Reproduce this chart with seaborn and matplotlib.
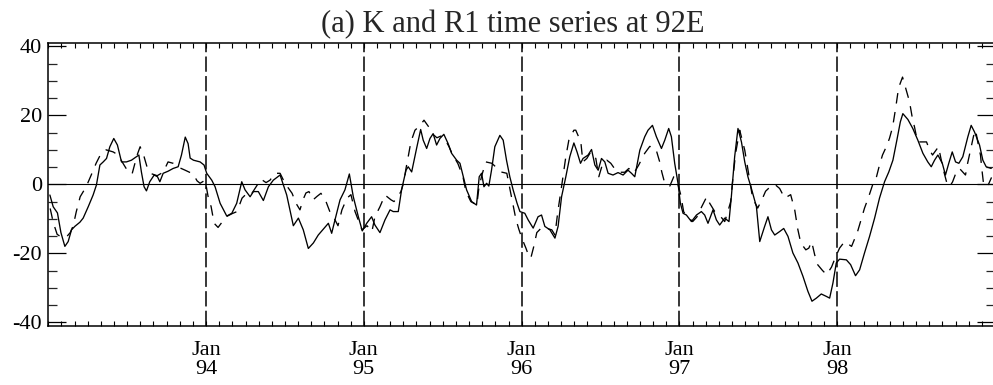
import numpy as np
import pandas as pd
import matplotlib
matplotlib.use("Agg")
import matplotlib.pyplot as plt
import seaborn as sns
from matplotlib.ticker import FixedLocator, MultipleLocator

# Time axis in years after 1 Jan 1993
k_time = [0.010, 0.031, 0.058, 0.080, 0.105, 0.126, 0.147, 0.168, 0.200, 0.221,
          0.253, 0.284, 0.305, 0.327, 0.348, 0.369, 0.390, 0.415, 0.438, 0.464,
          0.495, 0.527, 0.559, 0.574, 0.590, 0.607, 0.622, 0.643, 0.671, 0.692,
          0.707, 0.728, 0.759, 0.791, 0.823, 0.844, 0.868, 0.886, 0.899, 0.920,
          0.962, 0.987, 1.004, 1.036, 1.057, 1.089, 1.131, 1.163, 1.194, 1.226,
          1.247, 1.279, 1.300, 1.331, 1.363, 1.395, 1.426, 1.469, 1.511, 1.553,
          1.585, 1.616, 1.648, 1.680, 1.711, 1.743, 1.775, 1.796, 1.817, 1.849,
          1.880, 1.908, 1.933, 1.965, 1.990, 2.018, 2.049, 2.070, 2.102, 2.134,
          2.166, 2.186, 2.218, 2.239, 2.267, 2.281, 2.303, 2.334, 2.360, 2.376,
          2.398, 2.419, 2.439, 2.461, 2.482, 2.507, 2.534, 2.556, 2.588, 2.609,
          2.630, 2.651, 2.683, 2.714, 2.731, 2.746, 2.761, 2.778, 2.792, 2.809,
          2.830, 2.862, 2.883, 2.904, 2.925, 2.946, 2.971, 2.989, 3.020, 3.041,
          3.073, 3.104, 3.126, 3.147, 3.179, 3.211, 3.231, 3.253, 3.280, 3.305,
          3.331, 3.351, 3.373, 3.389, 3.421, 3.443, 3.464, 3.485, 3.506, 3.527,
          3.548, 3.579, 3.611, 3.643, 3.674, 3.696, 3.717, 3.749, 3.780, 3.801,
          3.829, 3.854, 3.886, 3.907, 3.932, 3.949, 3.970, 3.991, 4.006, 4.023,
          4.044, 4.076, 4.108, 4.139, 4.160, 4.181, 4.213, 4.234, 4.255, 4.287,
          4.314, 4.329, 4.350, 4.371, 4.393, 4.414, 4.434, 4.456, 4.488, 4.509,
          4.540, 4.561, 4.583, 4.604, 4.635, 4.661, 4.688, 4.719, 4.751, 4.783,
          4.814, 4.840, 4.868, 4.899, 4.931, 4.952, 4.973, 4.994, 5.015, 5.058,
          5.085, 5.116, 5.142, 5.173, 5.205, 5.237, 5.268, 5.300, 5.327, 5.353,
          5.378, 5.400, 5.416, 5.448, 5.479, 5.511, 5.543, 5.574, 5.596, 5.617,
          5.638, 5.666, 5.686, 5.707, 5.729, 5.750, 5.771, 5.796, 5.828, 5.849,
          5.870, 5.902, 5.923, 5.944, 5.976]
k_value = [-3.1, -6.5, -8.3, -14.0, -18.0, -16.6, -13.2, -12.2, -11.0, -9.8,
           -6.5, -3.1, -0.2, 5.6, 6.5, 7.5, 10.9, 13.3, 11.4, 6.5,
           6.5, 7.0, 8.0, 8.5, 3.6, -0.7, -1.9, 0.75, 2.7, 2.2,
           0.75, 3.2, 3.8, 4.6, 5.1, 8.5, 13.7, 11.8, 7.6, 7.0,
           6.5, 5.6, 3.2, 1.2, -0.7, -5.5, -9.2, -8.4, -5.5, 0.75,
           -1.6, -3.6, -2.1, -2.1, -4.7, -0.7, 1.2, 2.7, -3.1, -12.0,
           -9.8, -13.2, -18.6, -17.0, -14.7, -13.0, -11.3, -14.2, -10.3, -4.5,
           -1.6, 3.0, -3.6, -9.4, -13.5, -11.3, -9.4, -11.8, -14.0, -10.3,
           -7.4, -7.9, -7.9, -1.6, 4.1, 5.1, 3.6, 10.4, 15.9, 12.8,
           10.4, 13.3, 14.7, 11.4, 13.3, 14.5, 11.8, 9.0, 7.0, 6.1,
           2.2, -1.6, -5.0, -6.0, 2.2, 3.2, -0.7, 0.3, -0.5, 4.1,
           10.9, 14.2, 12.8, 7.0, 2.2, -1.6, -5.5, -7.9, -8.4, -10.3,
           -12.7, -9.4, -8.9, -12.2, -13.2, -15.6, -12.2, -3.6, 2.2, 8.0,
           12.0, 9.4, 6.1, 7.5, 8.5, 10.1, 5.6, 4.1, 7.5, 6.5,
           3.2, 2.7, 3.4, 2.7, 4.1, 3.2, 2.2, 9.9, 13.8, 15.7,
           17.1, 13.8, 10.4, 12.8, 16.2, 13.8, 6.1, 0.3, -5.5, -8.4,
           -8.9, -10.8, -8.9, -7.9, -8.9, -11.3, -7.4, -10.3, -11.8, -9.8,
           -10.8, -3.6, 8.0, 16.2, 12.3, 6.5, 2.2, -1.2, -6.5, -16.6,
           -12.2, -9.4, -13.2, -14.7, -13.7, -12.8, -15.1, -19.9, -22.8, -26.7,
           -31.0, -33.9, -33.0, -31.8, -32.5, -33.0, -28.6, -22.8, -21.7, -21.9,
           -23.3, -26.5, -24.8, -19.9, -15.1, -9.8, -4.0, 0.75, 3.6, 7.0,
           12.8, 18.1, 20.5, 18.8, 16.2, 12.8, 9.0, 6.5, 5.1, 7.0,
           8.5, 6.1, 2.7, 6.1, 9.4, 6.5, 6.1, 8.0, 13.8, 17.1,
           15.2, 11.4, 7.0, 5.1, 4.6]

r1_time = [0.012, 0.031, 0.056, 0.088, 0.120, 0.139, 0.158, 0.177, 0.202, 0.240,
           0.272, 0.303, 0.335, 0.367, 0.411, 0.443, 0.468, 0.500, 0.531, 0.563,
           0.582, 0.607, 0.626, 0.658, 0.690, 0.728, 0.759, 0.791, 0.823, 0.867,
           0.918, 0.943, 0.962, 0.994, 1.013, 1.032, 1.051, 1.076, 1.101, 1.127,
           1.165, 1.196, 1.228, 1.259, 1.285, 1.317, 1.348, 1.380, 1.405, 1.437,
           1.469, 1.500, 1.545, 1.570, 1.595, 1.614, 1.633, 1.652, 1.678, 1.703,
           1.728, 1.760, 1.785, 1.817, 1.836, 1.861, 1.893, 1.918, 1.944, 1.988,
           2.020, 2.051, 2.070, 2.102, 2.134, 2.172, 2.191, 2.216, 2.235, 2.254,
           2.267, 2.279, 2.298, 2.324, 2.355, 2.381, 2.412, 2.438, 2.463, 2.488,
           2.514, 2.539, 2.558, 2.577, 2.596, 2.628, 2.647, 2.678, 2.716, 2.729,
           2.748, 2.773, 2.811, 2.837, 2.868, 2.906, 2.925, 2.944, 2.963, 2.982,
           3.001, 3.027, 3.039, 3.058, 3.077, 3.096, 3.128, 3.153, 3.191, 3.211,
           3.229, 3.255, 3.280, 3.299, 3.331, 3.343, 3.375, 3.388, 3.413, 3.438,
           3.470, 3.489, 3.514, 3.540, 3.565, 3.596, 3.628, 3.653, 3.679, 3.711,
           3.742, 3.780, 3.812, 3.850, 3.875, 3.888, 3.907, 3.939, 3.964, 3.989,
           4.008, 4.027, 4.053, 4.084, 4.110, 4.141, 4.173, 4.192, 4.224, 4.255,
           4.287, 4.306, 4.325, 4.337, 4.356, 4.382, 4.414, 4.439, 4.464, 4.496,
           4.527, 4.546, 4.576, 4.604, 4.635, 4.667, 4.686, 4.705, 4.731, 4.750,
           4.769, 4.801, 4.820, 4.838, 4.857, 4.876, 4.907, 4.933, 4.964, 4.990,
           5.015, 5.047, 5.091, 5.129, 5.148, 5.173, 5.198, 5.224, 5.249, 5.268,
           5.287, 5.312, 5.331, 5.351, 5.370, 5.389, 5.414, 5.439, 5.458, 5.477,
           5.490, 5.509, 5.535, 5.566, 5.585, 5.604, 5.642, 5.655, 5.674, 5.693,
           5.712, 5.731, 5.750, 5.775, 5.813, 5.826, 5.845, 5.864, 5.877, 5.896,
           5.908, 5.915, 5.927, 5.952, 5.978]
r1_value = [-7.0, -11.0, -14.5, -15.5, -15.0, -14.0, -12.0, -8.0, -3.6, -0.7,
            2.7, 6.1, 9.0, 10.0, 9.4, 8.5, 6.5, 4.1, 3.0, 8.5,
            10.9, 8.0, 5.0, 3.0, 2.5, 3.5, 6.5, 6.1, 5.0, 4.1,
            3.0, 1.0, 0.3, 1.2, -3.6, -6.5, -11.3, -12.5, -11.0, -9.4,
            -8.5, -7.9, -4.0, -2.6, -3.0, -0.7, 1.5, 0.5, 1.2, 3.2,
            3.2, 0.3, -2.6, -5.5, -7.4, -4.5, -2.5, -2.1, -4.5, -3.5,
            -2.6, -5.0, -8.0, -10.3, -12.0, -7.4, -4.0, -3.0, -7.9, -13.2,
            -12.0, -13.7, -9.4, -6.5, -3.1, -4.5, -5.0, -3.5, -2.1, 0.75,
            4.6, 7.5, 12.3, 15.7, 17.0, 18.6, 16.6, 14.5, 13.5, 14.0,
            13.0, 11.0, 9.0, 7.5, 6.0, 2.2, -2.1, -5.0, -6.0, -1.0,
            2.7, 6.5, 6.1, 5.0, 3.6, 3.2, -1.2, -5.5, -10.0, -13.0,
            -15.6, -18.5, -20.0, -21.4, -18.0, -14.0, -12.5, -12.7, -13.2, -14.7,
            -8.0, 0.0, 8.0, 12.8, 15.7, 15.7, 12.3, 6.5, 7.5, 9.4,
            7.5, 2.2, 6.1, 7.0, 6.1, 4.1, 3.5, 3.5, 4.6, 3.2,
            5.6, 9.0, 11.0, 10.4, 6.5, 3.6, 0.3, -0.5, 2.2, 0.3,
            -3.0, -8.0, -9.5, -10.8, -9.5, -6.5, -3.6, -5.5, -7.9, -9.0,
            -10.8, -8.0, -5.0, 1.0, 9.0, 15.7, 9.9, 3.0, -4.0, -6.9,
            -4.0, -2.0, -0.7, 0.0, -1.2, -4.0, -3.5, -3.0, -7.5, -13.0,
            -17.0, -19.0, -18.5, -16.6, -20.4, -23.3, -25.0, -26.2, -24.0, -21.0,
            -18.5, -16.6, -18.0, -13.7, -10.8, -6.9, -3.8, -0.2, 2.2, 5.6,
            8.5, 11.0, 13.3, 16.6, 22.0, 28.0, 31.1, 27.0, 24.0, 19.0,
            16.6, 12.3, 12.3, 12.3, 10.0, 8.5, 10.9, 8.0, 4.0, 0.7,
            -0.7, 0.7, 3.0, 4.6, 2.7, 6.0, 10.0, 14.0, 15.7, 11.0,
            8.5, 5.1, 0.3, -0.7, 2.0]

start_year = 1993
year_ticks = [1994, 1995, 1996, 1997, 1998]
year_labels = ["Jan\n94", "Jan\n95", "Jan\n96", "Jan\n97", "Jan\n98"]
value_ticks = [-40, -20, 0, 20, 40]
value_labels = ["-40", "-20", "0", "20", "40"]
title_text = "(a) K and R1 time series at 92E"

sns.set_style("ticks")
plt.rcParams["font.family"] = ["Liberation Serif", "DejaVu Serif"]

frame = pd.concat([
    pd.DataFrame({"t": start_year + np.asarray(k_time), "v": k_value, "series": "K"}),
    pd.DataFrame({"t": start_year + np.asarray(r1_time), "v": r1_value, "series": "R1"}),
], ignore_index=True)

W, H = 993, 385
fig = plt.figure(figsize=(W / 100, H / 100), dpi=100)
fig.patch.set_facecolor("white")
left_px, right_px, top_px, bottom_px = 48.3, 995.0, 43.3, 325.7
ax = fig.add_axes([left_px / W, 1 - bottom_px / H,
                   (right_px - left_px) / W, (bottom_px - top_px) / H])
ax.set_facecolor("white")

sns.lineplot(data=frame, x="t", y="v", style="series",
             dashes={"K": "", "R1": (8, 6.5)}, color="black", linewidth=0.95,
             estimator=None, sort=False, legend=False, ax=ax)

ax.axhline(0, color="black", linewidth=0.8, zorder=1)
for yr in year_ticks:
    ax.axvline(yr, color="black", linewidth=1.1, dashes=(10, 2.8), zorder=1)

ax.set_xlim(start_year, start_year + 6)
ax.set_ylim(-41, 40.9)
ax.set_xlabel("")
ax.set_ylabel("")

ax.set_xticks(year_ticks)
ax.set_xticklabels(year_labels, fontsize=16, linespacing=1.0)
ax.xaxis.set_minor_locator(FixedLocator(np.arange(start_year, start_year + 6.001, 1 / 12)))
ax.set_yticks(value_ticks)
ax.set_yticklabels(value_labels, fontsize=16)
ax.yaxis.set_minor_locator(MultipleLocator(5))

ax.tick_params(axis="x", which="both", direction="in", top=True, bottom=True,
               length=3.8, width=0.8, pad=11, colors="black")
ax.tick_params(axis="y", which="major", direction="in", left=True, right=True,
               length=13, width=0.9, pad=4.5, colors="black")
ax.tick_params(axis="y", which="minor", direction="in", left=True, right=True,
               length=6.5, width=0.9)

for s in ax.spines.values():
    s.set_visible(True)
    s.set_color("black")
    s.set_linewidth(1.1)

fig.text(512.5 / W, 1 - 32 / H, title_text, fontsize=22, ha="center", va="baseline")

fig.savefig("out.png", dpi=100, facecolor="white")
